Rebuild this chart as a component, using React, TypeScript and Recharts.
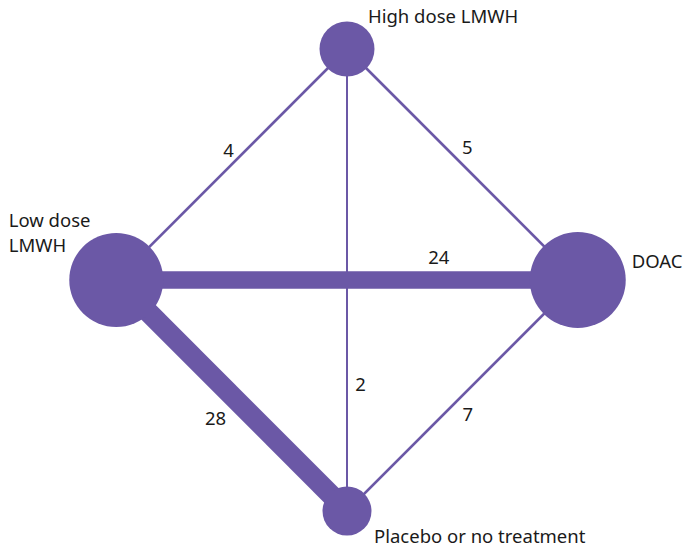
import { ScatterChart, Scatter, XAxis, YAxis } from 'recharts';

const PURPLE = '#6b58a6';
const FONT = '"Noto Sans", Arial, sans-serif';

// treatments (nodes) laid out on a diamond
const nodeIds = ['high', 'low', 'doac', 'placebo'];
const nodeNames = [['High dose LMWH'], ['Low dose', 'LMWH'], ['DOAC'], ['Placebo or no treatment']];
const nodeX = [0, -1, 1, 0];
const nodeY = [1, 0, 0, -1];
const nodeSize = [27.5, 47, 48, 24.5];

// direct comparisons (edges) and number of trials
const edgeFrom = ['low', 'high', 'high', 'low', 'low', 'doac'];
const edgeTo = ['high', 'doac', 'placebo', 'doac', 'placebo', 'placebo'];
const edgeTrials = [4, 5, 2, 24, 28, 7];

// where along each edge the count sits (fraction, pixel nudge)
const LABEL_AT: { t: number; dx: number; dy: number }[] = [
  { t: 0.5, dx: -3, dy: -15 },
  { t: 0.5, dx: 5, dy: -18 },
  { t: 0.724, dx: 13.5, dy: 0 },
  { t: 0.699, dx: 0, dy: -23.5 },
  { t: 0.5, dx: -16, dy: 21.5 },
  { t: 0.5, dx: 5.5, dy: 17.5 },
];

// node name placement relative to the circle centre
const NAME_AT: { dx: number; dy: number }[] = [
  { dx: 21, dy: -26 },
  { dx: -107.5, dy: -53 },
  { dx: 54, dy: -12 },
  { dx: 27, dy: 32 },
];

const nodes = nodeIds.map((id, i) => ({
  id,
  x: nodeX[i],
  y: nodeY[i],
  size: nodeSize[i],
  lines: nodeNames[i],
  nameAt: NAME_AT[i],
}));

const byId = (id: string) => nodes.find((n) => n.id === id)!;

const edges = edgeFrom.map((f, i) => {
  const a = byId(f);
  const b = byId(edgeTo[i]);
  const at = LABEL_AT[i];
  return {
    key: `${f}-${edgeTo[i]}`,
    n: edgeTrials[i],
    points: [{ x: a.x, y: a.y }, { x: b.x, y: b.y }],
    label: {
      x: a.x + (b.x - a.x) * at.t,
      y: a.y + (b.y - a.y) * at.t,
      dx: at.dx,
      dy: at.dy,
      text: String(edgeTrials[i]),
    },
  };
});

function edgeWidth(n: number) {
  if (n >= 20) return n * 0.73;
  if (n <= 2) return 2;
  return 2.6;
}

const NoDot = () => <g />;

function NodeShape(props: any) {
  const { cx, cy, payload } = props;
  return <circle cx={cx} cy={cy} r={payload.size} fill={PURPLE} />;
}

function NodeName(props: any) {
  const { cx, cy, payload } = props;
  return (
    <text
      x={cx + payload.nameAt.dx}
      y={cy + payload.nameAt.dy}
      fontFamily={FONT}
      fontSize={18.5}
      fill="#1a1a1a"
    >
      {payload.lines.map((l: string, i: number) => (
        <tspan key={i} x={cx + payload.nameAt.dx} dy={i === 0 ? 0 : 25}>
          {l}
        </tspan>
      ))}
    </text>
  );
}

function EdgeLabel(props: any) {
  const { cx, cy, payload } = props;
  return (
    <text
      x={cx + payload.dx}
      y={cy + payload.dy}
      textAnchor="middle"
      dominantBaseline="central"
      fontFamily={FONT}
      fontSize={18.5}
      fill="#1a1a1a"
    >
      {payload.text}
    </text>
  );
}

export default function App() {
  return (
    <div style={{ position: 'absolute', left: 0, top: 0, background: '#fff' }}>
      <ScatterChart width={683} height={547} margin={{ top: 0, right: 0, bottom: 0, left: 0 }}>
        <XAxis type="number" dataKey="x" domain={[-1.5038, 1.4561]} allowDataOverflow hide />
        <YAxis type="number" dataKey="y" domain={[-1.1558, 1.2121]} allowDataOverflow hide />
        {edges.map((e) => (
          <Scatter
            key={e.key}
            data={e.points}
            line={{ stroke: PURPLE, strokeWidth: edgeWidth(e.n) }}
            shape={NoDot}
            isAnimationActive={false}
          />
        ))}
        <Scatter data={nodes} shape={NodeShape} isAnimationActive={false} />
        <Scatter data={nodes} shape={NodeName} isAnimationActive={false} />
        <Scatter data={edges.map((e) => e.label)} shape={EdgeLabel} isAnimationActive={false} />
      </ScatterChart>
    </div>
  );
}
